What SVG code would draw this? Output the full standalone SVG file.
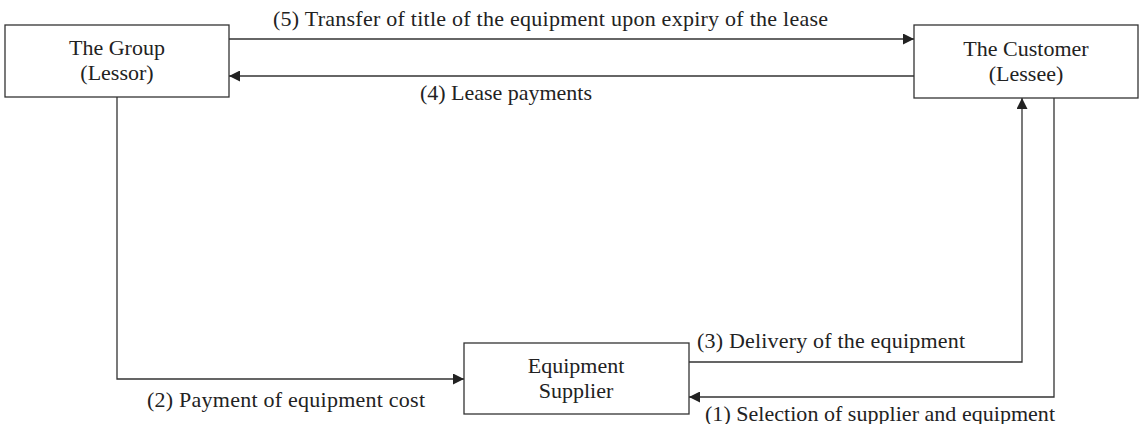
<svg xmlns="http://www.w3.org/2000/svg" width="1140" height="424" viewBox="0 0 1140 424">
<style>
.box{fill:#fff;stroke:#333;stroke-width:1.3}
.ln{fill:none;stroke:#333;stroke-width:1.3}
text{font-family:"Liberation Serif","Times New Roman",serif;font-size:22px;fill:#222}
.c{text-anchor:middle}
</style>
<defs>
<marker id="ah" viewBox="0 0 10 10" refX="10" refY="5" markerWidth="11" markerHeight="11" markerUnits="userSpaceOnUse" orient="auto">
<path d="M0,0 L10,5 L0,10 z" fill="#222"/>
</marker>
</defs>
<g id="connectors">
<path class="ln" d="M229,39 H914" marker-end="url(#ah)"/>
<path class="ln" d="M914,76 H229" marker-end="url(#ah)"/>
<path class="ln" d="M117,97 V379 H464" marker-end="url(#ah)"/>
<path class="ln" d="M689,362 H1022 V98" marker-end="url(#ah)"/>
<path class="ln" d="M1054,98 V397 H689" marker-end="url(#ah)"/>
<text x="273" y="26" textLength="555">(5) Transfer of title of the equipment upon expiry of the lease</text>
<text x="420" y="100" textLength="172">(4) Lease payments</text>
<text x="147" y="407" textLength="278">(2) Payment of equipment cost</text>
<text x="697" y="348" textLength="268">(3) Delivery of the equipment</text>
<text x="705" y="421" textLength="350">(1) Selection of supplier and equipment</text>
</g>
<g id="group">
<rect class="box" x="5" y="25" width="224" height="72"/>
<text class="c" x="117" y="55">The Group</text>
<text class="c" x="117" y="80">(Lessor)</text>
</g>
<g id="customer">
<rect class="box" x="914" y="25" width="224" height="73"/>
<text class="c" x="1026" y="56">The Customer</text>
<text class="c" x="1026" y="81">(Lessee)</text>
</g>
<g id="supplier">
<rect class="box" x="464" y="343" width="225" height="71"/>
<text class="c" x="576" y="373">Equipment</text>
<text class="c" x="576" y="398">Supplier</text>
</g>
</svg>
